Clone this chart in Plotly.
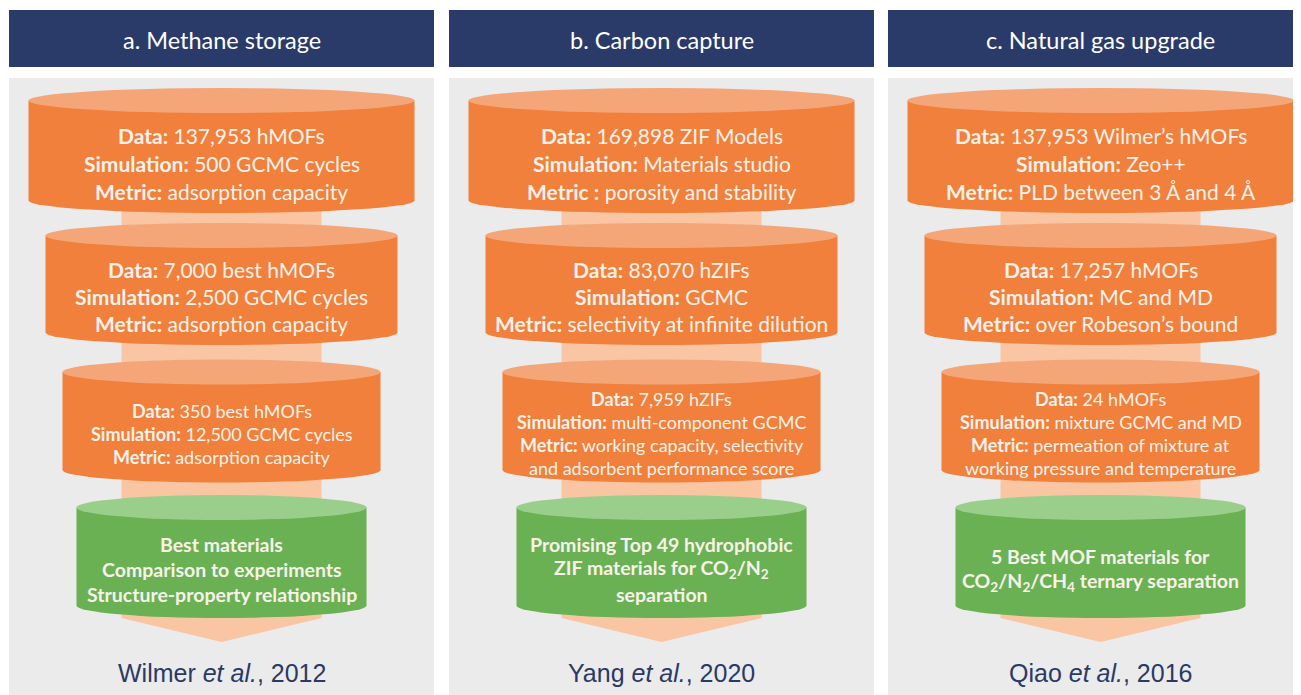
import plotly.graph_objects as go

# ---------------- content ----------------
panel_titles = ["a. Methane storage", "b. Carbon capture", "c. Natural gas upgrade"]

methane_stages = [
    ["<b>Data:</b> 137,953 hMOFs", "<b>Simulation:</b> 500 GCMC cycles", "<b>Metric:</b> adsorption capacity"],
    ["<b>Data:</b> 7,000 best hMOFs", "<b>Simulation:</b> 2,500 GCMC cycles", "<b>Metric:</b> adsorption capacity"],
    ["<b>Data:</b> 350 best hMOFs", "<b>Simulation:</b> 12,500 GCMC cycles", "<b>Metric:</b> adsorption capacity"],
    ["<b>Best materials</b>", "<b>Comparison to experiments</b>", "<b>Structure-property relationship</b>"],
]
carbon_stages = [
    ["<b>Data:</b> 169,898 ZIF Models", "<b>Simulation:</b> Materials studio", "<b>Metric :</b> porosity and stability"],
    ["<b>Data:</b> 83,070 hZIFs", "<b>Simulation:</b> GCMC", "<b>Metric:</b> selectivity at infinite dilution"],
    ["<b>Data:</b> 7,959 hZIFs", "<b>Simulation:</b> multi-component GCMC",
     "<b>Metric:</b> working capacity, selectivity", "and adsorbent performance score"],
    ["<b>Promising Top 49 hydrophobic</b>", "<b>ZIF materials for CO<sub>2</sub>/N<sub>2</sub></b>", "<b>separation</b>"],
]
gas_stages = [
    ["<b>Data:</b> 137,953 Wilmer’s hMOFs", "<b>Simulation:</b> Zeo++", "<b>Metric:</b> PLD between 3 Å and 4 Å"],
    ["<b>Data:</b> 17,257 hMOFs", "<b>Simulation:</b> MC and MD", "<b>Metric:</b> over Robeson’s bound"],
    ["<b>Data:</b> 24 hMOFs", "<b>Simulation:</b> mixture GCMC and MD",
     "<b>Metric:</b> permeation of mixture at", "working pressure and temperature"],
    ["<b>5 Best MOF materials for</b>", "<b>CO<sub>2</sub>/N<sub>2</sub>/CH<sub>4</sub> ternary separation</b>"],
]
citations = ["Wilmer <i>et al.</i>, 2012", "Yang <i>et al.</i>, 2020", "Qiao <i>et al.</i>, 2016"]

panels = [methane_stages, carbon_stages, gas_stages]

# ---------------- layout / style ----------------
W, H = 1301, 695
PAGE_MARGIN = 8  # the browser's default body margin offsets the figure
panel_left = [9, 449, 888]
panel_w = 425
header_top, header_bot = 10, 67
body_top = 78

navy = "#2B3B69"
grey = "#EBEBEB"
orange_side = "#F0803B"
orange_top = "#F4A679"
green_side = "#69B152"
green_top = "#99CF8B"
band_col = "#F9C5A3"
text_col = "#F8F1EA"
cite_col = "#2A3966"

cyl_w = [386, 352, 318, 290]
cyl_top = [100.5, 235.5, 372, 507.5]
cyl_bot = [200.5, 332.5, 470, 605.5]
ry = 12.5
font_sz = [21, 21, 18, 19.5]
line_gap = [28, 27, 23, 25]

FONT = "Lato, 'Open Sans', sans-serif"

shapes = []
annotations = []

for p, stages in enumerate(panels):
    x0 = panel_left[p]
    cx = x0 + panel_w / 2
    # header
    shapes.append(dict(type="rect", x0=x0, x1=x0 + panel_w, y0=header_top, y1=header_bot,
                       fillcolor=navy, line=dict(width=0), layer="above"))
    annotations.append(dict(x=cx, y=(header_top + header_bot) / 2 + 1, text=panel_titles[p],
                            showarrow=False, xanchor="center", yanchor="middle",
                            font=dict(family=FONT, size=23.5, color="white")))
    # grey body
    shapes.append(dict(type="rect", x0=x0, x1=x0 + panel_w, y0=body_top, y1=H + 5,
                       fillcolor=grey, line=dict(width=0), layer="above"))
    # band + arrow
    bw = 100
    shapes.append(dict(type="path",
                       path=f"M {cx-bw},{cyl_top[0]} L {cx+bw},{cyl_top[0]} L {cx+bw},618 "
                            f"L {cx},642 L {cx-bw},618 Z",
                       fillcolor=band_col, line=dict(width=0), layer="above"))
    # cylinders
    for s, lines in enumerate(stages):
        hw = cyl_w[s] / 2
        side = green_side if s == 3 else orange_side
        top = green_top if s == 3 else orange_top
        yt, yb = cyl_top[s], cyl_bot[s]
        shapes.append(dict(type="circle", x0=cx - hw, x1=cx + hw, y0=yb - ry, y1=yb + ry,
                           fillcolor=side, line=dict(width=0), layer="above"))
        shapes.append(dict(type="rect", x0=cx - hw, x1=cx + hw, y0=yt, y1=yb,
                           fillcolor=side, line=dict(width=0), layer="above"))
        shapes.append(dict(type="circle", x0=cx - hw, x1=cx + hw, y0=yt - ry, y1=yt + ry,
                           fillcolor=top, line=dict(width=0), layer="above"))
        n = len(lines)
        mid = (yt + ry + yb + ry) / 2
        for i, ln in enumerate(lines):
            yy = mid + (i - (n - 1) / 2) * line_gap[s]
            annotations.append(dict(x=cx, y=yy, text=ln, showarrow=False,
                                    xanchor="center", yanchor="middle",
                                    font=dict(family=FONT, size=font_sz[s], color=text_col)))
    annotations.append(dict(x=cx, y=673, text=citations[p], showarrow=False,
                            xanchor="center", yanchor="middle",
                            font=dict(family="'Liberation Sans', Arial, sans-serif", size=25,
                                      color=cite_col)))

fig = go.Figure()
fig.update_layout(
    width=W, height=H - PAGE_MARGIN, margin=dict(l=0, r=0, t=0, b=0),
    paper_bgcolor="white", plot_bgcolor="white",
    xaxis=dict(range=[PAGE_MARGIN, W + PAGE_MARGIN], visible=False, fixedrange=True),
    yaxis=dict(range=[H, PAGE_MARGIN], visible=False, fixedrange=True),
    shapes=shapes, annotations=annotations, showlegend=False,
)
fig.write_html("out.html", config={"displayModeBar": False})
